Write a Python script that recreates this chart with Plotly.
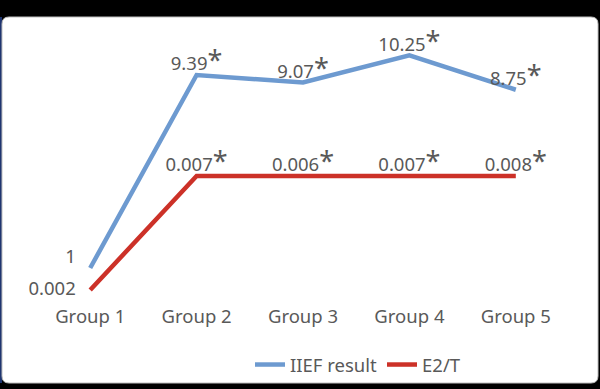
import plotly.graph_objects as go

groups = ["Group 1", "Group 2", "Group 3", "Group 4", "Group 5"]
iief_values = [1, 9.39, 9.07, 10.25, 8.75]
iief_labels = ["1", "9.39*", "9.07*", "10.25*", "8.75*"]
e2t_values = [0.002, 0.007, 0.007, 0.007, 0.007]
e2t_labels = ["0.002", "0.007*", "0.006*", "0.007*", "0.008*"]

W, H = 600, 389
L, R, T, B = 37, 31, 25, 86
PW, PH = W - L - R, H - T - B

def px(x):
    return (x - L) / PW

def py(y):
    return (H - B - y) / PH

def fmt(lbl, first):
    if first:
        return lbl + "&nbsp;&nbsp;&nbsp;"
    if lbl.endswith("*"):
        return lbl[:-1] + "<span style='font-size:27px'>*</span>"
    return lbl

blue = "#6D9AD0"
red = "#CC3128"
gray = "#595959"
font = "Noto Sans"
fs = 18.5

fig = go.Figure()
fig.add_trace(go.Scatter(
    x=groups, y=iief_values, name="IIEF result", mode="lines+text",
    line=dict(color=blue, width=4.5),
    text=[fmt(t, i == 0) for i, t in enumerate(iief_labels)],
    textposition=["top left"] + ["top center"] * 4,
    textfont=dict(family=font, size=fs, color=gray),
    cliponaxis=False, yaxis="y",
))
fig.add_trace(go.Scatter(
    x=groups, y=e2t_values, name="E2/T", mode="lines+text",
    line=dict(color=red, width=4.5),
    text=[fmt(t, i == 0) for i, t in enumerate(e2t_labels)],
    textposition=["middle left"] + ["top center"] * 4,
    textfont=dict(family=font, size=fs, color=gray),
    cliponaxis=False, yaxis="y2",
))

# rounded white panel
x0, x1, y0, y1, r = 2, 598, 17, 383, 7
path = (f"M {px(x0+r)} {py(y0)} L {px(x1-r)} {py(y0)} Q {px(x1)} {py(y0)} {px(x1)} {py(y0+r)} "
        f"L {px(x1)} {py(y1-r)} Q {px(x1)} {py(y1)} {px(x1-r)} {py(y1)} "
        f"L {px(x0+r)} {py(y1)} Q {px(x0)} {py(y1)} {px(x0)} {py(y1-r)} "
        f"L {px(x0)} {py(y0+r)} Q {px(x0)} {py(y0)} {px(x0+r)} {py(y0)} Z")

fig.update_layout(
    width=W, height=H,
    margin=dict(l=L, r=R, t=T, b=B),
    paper_bgcolor="black", plot_bgcolor="rgba(0,0,0,0)",
    shapes=[
        dict(type="line", xref="paper", yref="paper", x0=px(1), x1=px(1),
             y0=py(y0), y1=py(y1), line=dict(color="#1F3570", width=2), layer="below"),
        dict(type="path", xref="paper", yref="paper", path=path,
             fillcolor="white", line=dict(color="#BFBFBF", width=1), layer="below"),
    ],
    xaxis=dict(range=[-0.5, 4.5], showgrid=False, zeroline=False, showline=False,
               automargin=False,
               ticks="", tickfont=dict(family=font, size=fs, color=gray)),
    yaxis=dict(range=[-0.52, 11.565], visible=False),
    yaxis2=dict(range=[0.00143, 0.013623], visible=False, overlaying="y", side="right"),
    legend=dict(orientation="h", x=px(358), xanchor="center",
                yref="container", y=1 - 365 / H, yanchor="middle",
                font=dict(family=font, size=fs, color=gray), bgcolor="rgba(0,0,0,0)",
                itemwidth=30),
    showlegend=True,
)

fig.write_html("out.html", config={"displayModeBar": False},
               post_script="document.body.style.margin='0';document.body.style.background='black';")
